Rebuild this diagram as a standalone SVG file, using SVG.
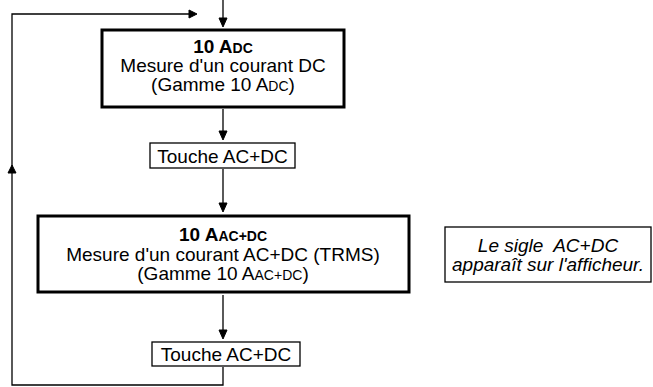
<svg xmlns="http://www.w3.org/2000/svg" width="653" height="387" viewBox="0 0 653 387">
<style>
text{font-family:"Liberation Sans",Arial,sans-serif;font-size:19px;fill:#000;text-anchor:middle}
.b{font-weight:bold}
.sc{font-size:14px}
.it{font-style:italic}
.thick{fill:#fff;stroke:#000;stroke-width:3}
.thin{fill:#fff;stroke:#000;stroke-width:1.3}
.ln{fill:none;stroke:#000;stroke-width:1.3}
.hd{fill:#000;stroke:#000;stroke-width:1;stroke-linejoin:miter}
</style>
<g id="node-10adc">
<rect class="thick" x="102" y="30" width="242" height="77"/>
<text class="b" x="223" y="53">10 A<tspan class="sc">DC</tspan></text>
<text x="223" y="72">Mesure d'un courant DC</text>
<text x="223" y="91">(Gamme 10 A<tspan class="sc">DC</tspan>)</text>
</g>
<g id="node-touche1">
<rect class="thin" x="150" y="143" width="145" height="25"/>
<text x="222.5" y="163">Touche AC+DC</text>
</g>
<g id="node-10aacdc">
<rect class="thick" x="38" y="216" width="371" height="76"/>
<text class="b" x="223" y="241">10 A<tspan class="sc">AC+DC</tspan></text>
<text x="223" y="261">Mesure d'un courant AC+DC (TRMS)</text>
<text x="223" y="280">(Gamme 10 A<tspan class="sc">AC+DC</tspan>)</text>
</g>
<g id="node-touche2">
<rect class="thin" x="152" y="342" width="148" height="24"/>
<text x="226" y="361">Touche AC+DC</text>
</g>
<g id="note">
<rect class="thin" x="445" y="227" width="206" height="55"/>
<text class="it" x="548" y="252" xml:space="preserve">Le sigle  AC+DC</text>
<text class="it" x="548" y="271">apparaît sur l'afficheur.</text>
</g>
<g id="connectors">
<line class="ln" x1="223" y1="0" x2="223" y2="20"/>
<polygon class="hd" points="219,18 227,18 223,27"/>
<line class="ln" x1="223" y1="109" x2="223" y2="132"/>
<polygon class="hd" points="219,131 227,131 223,140"/>
<line class="ln" x1="223" y1="169" x2="223" y2="204"/>
<polygon class="hd" points="219,203 227,203 223,212"/>
<line class="ln" x1="223" y1="295" x2="223" y2="331"/>
<polygon class="hd" points="219,330 227,330 223,339"/>
<polyline class="ln" points="223,367 223,385 12,385 12,14 192,14"/>
<polygon class="hd" points="189,10 189,18 197,14"/>
<polygon class="hd" points="8,173 16,173 12,165"/>
</g>
</svg>
